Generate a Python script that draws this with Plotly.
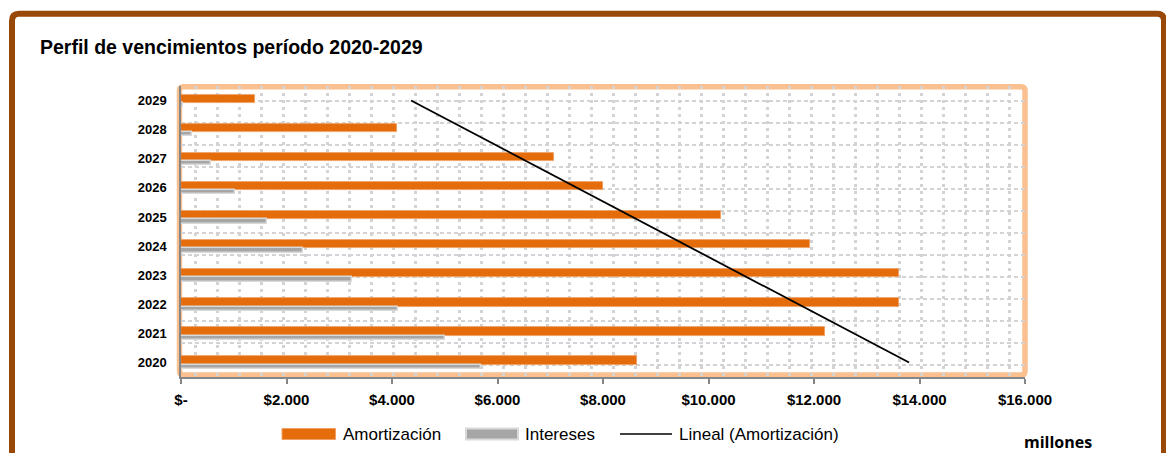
import numpy as np
import plotly.graph_objects as go

# ---- data (millones) ----
years = ["2020", "2021", "2022", "2023", "2024", "2025", "2026", "2027", "2028", "2029"]
amortizacion = [8650, 12210, 13610, 13610, 11920, 10230, 8000, 7080, 4100, 1410]
intereses = [5680, 5000, 4110, 3240, 2310, 1630, 1030, 570, 200, 40]
series_names = ["Amortización", "Intereses", "Lineal (Amortización)"]
x_tickvals = [0, 2000, 4000, 6000, 8000, 10000, 12000, 14000, 16000]
x_ticktext = ["$-", "$2.000", "$4.000", "$6.000", "$8.000", "$10.000", "$12.000", "$14.000", "$16.000"]
title_text = "Perfil de vencimientos período 2020-2029"
unit_text = "millones"

# linear trend of the amortization series over the period index
idx = np.arange(1, len(years) + 1)
slope, intercept = np.polyfit(idx, amortizacion, 1)
trend = slope * idx + intercept

# ---- layout geometry ----
W_FIG, H_FIG = 1166, 453
ML, MR, MT, MB = 181, 141, 86, 76
PW, PH = W_FIG - ML - MR, H_FIG - MT - MB

ORANGE = "#E46C0A"
GRAY = "#A6A6A6"
PEACH = "#FAC090"
BROWN = "#984807"
AXIS_GRAY = "#868686"
GRID = "#D3D3D3"
SANS = "Liberation Sans, Arial, sans-serif"


def px(x, y):
    """Pixel position on the page -> paper coordinates."""
    return (x - ML) / PW, 1 - (y - MT) / PH


def rounded_rect(x0, y0, x1, y1, r):
    pts = []
    def P(x, y):
        a, b = px(x, y)
        return f"{a:.5f},{b:.5f}"
    pts.append("M" + P(x0 + r, y0))
    pts.append("L" + P(x1 - r, y0))
    pts.append("Q" + P(x1, y0) + " " + P(x1, y0 + r))
    pts.append("L" + P(x1, y1 - r))
    pts.append("Q" + P(x1, y1) + " " + P(x1 - r, y1))
    pts.append("L" + P(x0 + r, y1))
    pts.append("Q" + P(x0, y1) + " " + P(x0, y1 - r))
    pts.append("L" + P(x0, y0 + r))
    pts.append("Q" + P(x0, y0) + " " + P(x0 + r, y0))
    pts.append("Z")
    return " ".join(pts)


# bar placement within each category (category units)
cat_px = PH / len(years)
ORANGE_OFF, ORANGE_W = -2.3 / cat_px, 8.3 / cat_px
GRAY_OFF, GRAY_W = -6.6 / cat_px, 4.3 / cat_px

fig = go.Figure()

fig.add_trace(go.Bar(
    name=series_names[0], y=years, x=amortizacion, orientation="h",
    offset=ORANGE_OFF, width=ORANGE_W,
    marker=dict(color=ORANGE, line=dict(color="#F0A064", width=0.8)),
    showlegend=False,
))
fig.add_trace(go.Bar(
    name=series_names[1], y=years, x=intereses, orientation="h",
    offset=GRAY_OFF, width=GRAY_W,
    marker=dict(color=GRAY, line=dict(color="#D9D9D9", width=1.4)),
    showlegend=False,
))
fig.add_trace(go.Scatter(
    name=series_names[2], y=years, x=trend, mode="lines",
    line=dict(color="black", width=1.8), showlegend=False,
))
# carrier for the dotted background grid
fig.add_trace(go.Scatter(x=[None], y=[None], xaxis="x2", yaxis="y2",
                         showlegend=False, hoverinfo="skip"))

shapes = [
    # outer frame
    dict(type="path", xref="paper", yref="paper",
         path=rounded_rect(12, 13.8, 1164, 480, 7),
         line=dict(color=BROWN, width=6), layer="below"),
    # plot-area border
    dict(type="path", xref="paper", yref="paper",
         path=rounded_rect(179.5, 86.8, 1025, 375, 4),
         line=dict(color=PEACH, width=5.5), layer="below"),
]

# legend keys
lx = [(282, 335.5), (466, 518)]
for (a, b), col, edge, ew in zip(lx, [ORANGE, GRAY], ["#F0A064", "#D9D9D9"], [1, 2]):
    x0, y0 = px(a, 428.5)
    x1, y1 = px(b, 439.5)
    shapes.append(dict(type="rect", xref="paper", yref="paper", x0=x0, x1=x1, y0=y0, y1=y1,
                       fillcolor=col, line=dict(color=edge, width=ew)))
x0, yl = px(620, 434)
x1, _ = px(672, 434)
shapes.append(dict(type="line", xref="paper", yref="paper", x0=x0, x1=x1, y0=yl, y1=yl,
                   line=dict(color="black", width=1.5)))

annotations = []
for name, xs in zip(series_names, [340.5, 523, 676.5]):
    ax, ay = px(xs, 434)
    annotations.append(dict(text=name, x=ax, y=ay, xref="paper", yref="paper",
                            xanchor="left", yanchor="middle", showarrow=False,
                            font=dict(family=SANS, size=17, color="black")))
ax, ay = px(38, 47)
annotations.append(dict(text=title_text, x=ax, y=ay, xref="paper", yref="paper",
                        xanchor="left", yanchor="middle", showarrow=False,
                        font=dict(family=SANS, size=19.5, color="black", weight="bold")))
ax, ay = px(1021.5, 442)
annotations.append(dict(text=unit_text, x=ax, y=ay, xref="paper", yref="paper",
                        xanchor="left", yanchor="middle", showarrow=False,
                        font=dict(family="Open Sans, sans-serif", size=16, color="black", weight="bold")))

fig.update_layout(
    width=W_FIG, height=H_FIG,
    margin=dict(l=ML, r=MR, t=MT, b=MB, pad=0),
    paper_bgcolor="white", plot_bgcolor="white",
    barmode="overlay", bargap=0,
    shapes=shapes, annotations=annotations,
    xaxis=dict(range=[0, 16000], tickvals=x_tickvals, ticktext=x_ticktext,
               ticks="outside", ticklen=5, tickwidth=1.5, tickcolor=AXIS_GRAY,
               showline=True, linecolor=AXIS_GRAY, linewidth=1.5,
               showgrid=False, zeroline=False, ticklabelstandoff=3,
               tickfont=dict(family=SANS, size=15, color="black", weight="bold")),
    yaxis=dict(type="category", categoryorder="array", categoryarray=years,
               range=[-0.5, len(years) - 0.5], ticks="",
               showline=True, linecolor=AXIS_GRAY, linewidth=1.5,
               showgrid=False, zeroline=False, ticklabelstandoff=10,
               tickfont=dict(family=SANS, size=13, color="black", weight="bold")),
    xaxis2=dict(overlaying="x", anchor="y2", range=[ML, ML + PW], tick0=195, dtick=22,
                showgrid=True, gridcolor=GRID, gridwidth=2.5, griddash="3px,4px",
                showticklabels=False, ticks="", zeroline=False, showline=False),
    yaxis2=dict(overlaying="y", anchor="x2", range=[MT + PH, MT], tick0=100.7, dtick=22,
                showgrid=True, gridcolor=GRID, gridwidth=2, griddash="4px,3px",
                showticklabels=False, ticks="", zeroline=False, showline=False),
)

fig.write_html("out.html")
